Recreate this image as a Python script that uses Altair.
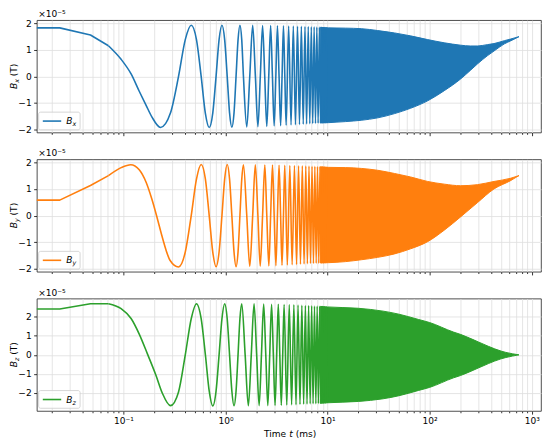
import altair as alt
import pandas as pd

# ---------------- data ----------------
# first samples of each trace, drawn point to point: (time in ms, field in 1e-5 T)
bx_start = [(0.01, 1.82), (0.0238, 1.82), (0.0476, 1.55), (0.0714, 1.15)]
by_start = [(0.01, 0.58), (0.0238, 0.58), (0.0476, 1.13), (0.0714, 1.50)]
bz_start = [(0.01, 2.41), (0.0238, 2.41), (0.0476, 2.69), (0.0714, 2.69)]

# smooth part with resolved oscillations (time in ms, field in 1e-5 T)
bx_osc = [
    (0.0714, 1.15), (0.095, 0.64), (0.119, 0.09), (0.143, -0.56), (0.167, -1.09),
    (0.190, -1.52), (0.231, -1.92), (0.289, -1.38), (0.347, 0.0), (0.404, 1.38),
    (0.462, 1.92), (0.520, 1.38), (0.578, 0.0), (0.635, -1.38), (0.693, -1.92),
    (0.751, -1.38), (0.809, 0.0), (0.866, 1.38), (0.924, 1.92), (0.982, 1.38),
    (1.04, 0.0), (1.097, -1.37), (1.155, -1.91), (1.213, -1.37), (1.27, 0.0),
    (1.328, 1.37), (1.386, 1.92), (1.444, 1.37), (1.50, 0.0), (1.617, -1.90),
    (1.73, 0.0), (1.848, 1.92), (1.964, 0.0), (2.079, -1.89), (2.195, 0.0),
    (2.31, 1.91), (2.425, 0.0), (2.54, -1.88), (2.655, 0.0), (2.77, 1.91),
    (2.885, 0.0), (3.00, -1.86), (3.115, 0.0), (3.23, 1.90), (3.35, 0.0),
    (3.47, -1.85), (3.585, 0.0), (3.70, 1.90), (3.815, 0.0), (3.93, -1.84),
    (4.16, 1.89), (4.39, -1.83), (4.62, 1.89), (4.85, -1.82), (5.08, 1.88),
    (5.31, -1.81), (5.54, 1.88), (5.78, -1.80), (6.01, 1.87), (6.24, -1.79),
    (6.47, 1.87), (6.70, -1.78), (6.93, 1.86), (7.16, -1.77), (7.39, 1.86),
    (7.62, -1.77), (7.85, 1.85), (8.09, -1.76), (8.32, 1.85), (8.55, -1.75),
    (8.78, 1.84), (9.01, -1.75), (9.24, 1.84), (9.47, -1.74), (9.70, 1.83),
    (9.93, -1.74),
]
by_osc = [
    (0.0714, 1.50), (0.095, 1.80), (0.118, 1.91), (0.143, 1.72), (0.167, 1.25),
    (0.190, 0.62), (0.214, -0.08), (0.238, -0.75), (0.262, -1.30), (0.286, -1.68),
    (0.347, -1.93), (0.404, -1.37), (0.462, 0.0), (0.520, 1.37), (0.578, 1.92),
    (0.636, 1.37), (0.693, 0.0), (0.751, -1.37), (0.809, -1.92), (0.866, -1.37),
    (0.924, 0.0), (0.982, 1.37), (1.04, 1.92), (1.097, 1.37), (1.155, 0.0),
    (1.213, -1.37), (1.27, -1.92), (1.328, -1.37), (1.386, 0.0), (1.444, 1.36),
    (1.50, 1.91), (1.617, 0.0), (1.73, -1.91), (1.848, 0.0), (1.96, 1.91),
    (2.079, 0.0), (2.19, -1.90), (2.31, 0.0), (2.43, 1.90), (2.54, 0.0),
    (2.66, -1.89), (2.77, 0.0), (2.89, 1.90), (3.00, 0.0), (3.12, -1.88),
    (3.23, 0.0), (3.35, 1.89), (3.47, 0.0), (3.58, -1.87), (3.70, 0.0),
    (3.81, 1.89), (4.04, -1.86), (4.27, 1.88), (4.50, -1.85), (4.74, 1.88),
    (4.97, -1.84), (5.20, 1.87), (5.43, -1.83), (5.66, 1.87), (5.89, -1.82),
    (6.12, 1.86), (6.35, -1.81), (6.58, 1.86), (6.81, -1.80), (7.05, 1.85),
    (7.28, -1.80), (7.51, 1.85), (7.74, -1.79), (7.97, 1.84), (8.20, -1.79),
    (8.43, 1.84), (8.66, -1.78), (8.89, 1.83), (9.12, -1.78), (9.36, 1.82),
    (9.59, -1.77), (9.82, 1.82),
]
bz_osc = [
    (0.0714, 2.69), (0.095, 2.43), (0.119, 1.91), (0.143, 1.09), (0.172, 0.05),
    (0.208, -1.06), (0.241, -2.02), (0.289, -2.67), (0.347, -1.95), (0.404, 0.0),
    (0.462, 1.90), (0.52, 2.69), (0.578, 1.90), (0.636, 0.0), (0.693, -1.90),
    (0.751, -2.69), (0.809, -1.90), (0.866, 0.0), (0.924, 1.90), (0.982, 2.69),
    (1.04, 1.90), (1.097, 0.0), (1.155, -1.90), (1.213, -2.68), (1.27, -1.90),
    (1.328, 0.0), (1.386, 1.90), (1.444, 2.68), (1.559, 0.0), (1.675, -2.68),
    (1.79, 0.0), (1.906, 2.68), (2.021, 0.0), (2.137, -2.67), (2.252, 0.0),
    (2.368, 2.67), (2.483, 0.0), (2.599, -2.67), (2.714, 0.0), (2.83, 2.66),
    (2.945, 0.0), (3.061, -2.66), (3.176, 0.0), (3.292, 2.66), (3.407, 0.0),
    (3.523, -2.65), (3.638, 0.0), (3.754, 2.65), (3.985, -2.64), (4.216, 2.64),
    (4.447, -2.63), (4.678, 2.63), (4.909, -2.62), (5.14, 2.62), (5.371, -2.61),
    (5.602, 2.61), (5.833, -2.60), (6.064, 2.60), (6.295, -2.59), (6.526, 2.59),
    (6.757, -2.58), (6.988, 2.58), (7.219, -2.57), (7.45, 2.57), (7.681, -2.57),
    (7.912, 2.57), (8.143, -2.56), (8.374, 2.56), (8.605, -2.55), (8.836, 2.55),
    (9.067, -2.54), (9.298, 2.54), (9.529, -2.54), (9.76, 2.53), (9.991, -2.53),
]
# densely oscillating part: (time in ms, upper envelope, lower envelope)
bx_envelope = [
    (8.5, 1.84, -1.75), (10.2, 1.82, -1.74), (15, 1.81, -1.70), (21.4, 1.79, -1.65),
    (31, 1.72, -1.56), (45.3, 1.63, -1.40), (65, 1.52, -1.20), (95.6, 1.38, -0.92),
    (139, 1.26, -0.54), (201, 1.17, -0.10), (250, 1.14, 0.22), (293, 1.14, 0.46),
    (367, 1.19, 0.77), (427, 1.23, 0.95), (540, 1.34, 1.22), (620, 1.40, 1.33),
    (750, 1.49, 1.49),
]
by_envelope = [
    (8.5, 1.83, -1.78), (10.2, 1.81, -1.77), (15, 1.80, -1.73), (21.4, 1.77, -1.66),
    (31, 1.70, -1.57), (45.3, 1.58, -1.44), (65, 1.45, -1.25), (95.6, 1.28, -0.98),
    (139, 1.18, -0.55), (201, 1.12, -0.05), (293, 1.16, 0.48), (427, 1.28, 1.00),
    (620, 1.40, 1.31), (750, 1.50, 1.50),
]
bz_envelope = [
    (8.5, 2.55, -2.55), (10, 2.52, -2.52), (20, 2.45, -2.45), (35, 2.30, -2.31),
    (50, 2.14, -2.15), (78, 1.86, -1.87), (100, 1.70, -1.71), (171, 1.20, -1.21),
    (200, 1.08, -1.09), (300, 0.68, -0.69), (376, 0.45, -0.46), (500, 0.20, -0.21),
    (558, 0.13, -0.14), (750, 0.0, 0.0),
]
series_labels = ["x", "y", "z"]
series_colors = ["#1f77b4", "#ff7f0e", "#2ca02c"]
y_domains = [[-2.11, 2.11], [-2.11, 2.11], [-2.95, 2.96]]
y_ticks = [-2, -1, 0, 1, 2]
x_domain = [0.0142, 1233]
x_major = [0.1, 1, 10, 100, 1000]
x_major_labels = ["10⁻¹", "10⁰", "10¹", "10²", "10³"]
x_minor = [m * 10.0 ** e for e in range(-2, 3) for m in range(2, 10)]
offset_text = "×10⁻⁵"

# ---------------- layout ----------------
FONT = "DejaVu Sans"
FS = 9.1
SUB = 6.4
LW = 1.6
W, H = 507, 113
one = pd.DataFrame({"k": [0]})

label_expr = " : ".join(
    f"datum.value == {v} ? '{s}'" for v, s in zip(x_major, x_major_labels)
) + " : ''"
MAJOR_TEST = "abs(log(datum.value)/LN10 - round(log(datum.value)/LN10)) < 0.000001"


def txt(text, x, y, size=FS, style="normal", angle=0, align="left"):
    return alt.Chart(one).mark_text(
        font=FONT, fontSize=size, fontStyle=style, angle=angle, align=align,
        baseline="alphabetic", color="black",
    ).encode(x=alt.value(x), y=alt.value(y), text=alt.value(text))


def panel(start, osc, env, color, sub, ydom, bottom):
    sdf = pd.DataFrame(start, columns=["t", "b"])
    odf = pd.DataFrame(osc, columns=["t", "b"])
    edf = pd.DataFrame(env, columns=["t", "hi", "lo"])
    xax = alt.Axis(
        values=x_major + x_minor, labels=bottom, labelExpr=label_expr,
        tickSize={"condition": {"test": MAJOR_TEST, "value": 3.2}, "value": 1.8},
        grid=True, title=None, labelOverlap=False, labelBaseline="alphabetic",
        labelPadding=9.8, labelFlush=False,
    )
    yax = alt.Axis(values=y_ticks, title=None, tickSize=3.2, labelPadding=2.5,
                   grid=True, format="d")
    xs = alt.Scale(type="log", domain=x_domain, nice=False)
    ys = alt.Scale(domain=ydom, nice=False, zero=False)
    X = alt.X("t:Q", scale=xs, axis=xax)

    band = alt.Chart(edf).mark_area(
        color=color, interpolate="monotone", stroke=color, strokeWidth=1.0, opacity=1
    ).encode(x=X, y=alt.Y("hi:Q", scale=ys, axis=yax), y2="lo:Q")
    line0 = alt.Chart(sdf).mark_line(
        color=color, strokeWidth=LW, clip=True, strokeJoin="round"
    ).encode(x=X, y=alt.Y("b:Q", scale=ys, axis=yax))
    line1 = alt.Chart(odf).mark_line(
        color=color, strokeWidth=LW, interpolate="monotone", clip=True
    ).encode(x=X, y=alt.Y("b:Q", scale=ys, axis=yax))

    sub_w = 3.8 if sub in ("x", "y") else 3.4
    c = H / 2
    top = c + (6.25 + sub_w + 15.55) / 2
    layers = [
        band, line0, line1,
        # y-axis title  B_sub (T)
        txt("B", -20, top, style="italic", angle=270),
        txt(sub, -18, top - 6.25, size=SUB, style="italic", angle=270),
        txt("(T)", -20, top - 6.25 - sub_w - 2.9, angle=270),
        # offset text
        txt(offset_text, 1.3, -3),
        # legend
        alt.Chart(one).mark_rect(
            fill="white", fillOpacity=0.8, stroke="#cccccc", strokeWidth=0.8, cornerRadius=2
        ).encode(x=alt.value(1.8), x2=alt.value(43.5), y=alt.value(92.5), y2=alt.value(110.3)),
        alt.Chart(one).mark_rule(color=color, strokeWidth=LW).encode(
            x=alt.value(6), x2=alt.value(24.5), y=alt.value(101.5)),
        txt("B", 29.5, 104.6, style="italic"),
        txt(sub, 35.8, 106.6, size=SUB, style="italic"),
    ]
    if bottom:
        layers += [
            txt("Time", 228.5, 139),
            txt("t", 253.95, 139, style="italic"),
            txt("(ms)", 260.4, 139),
        ]
    return alt.layer(*layers).properties(width=W, height=H)


starts = [bx_start, by_start, bz_start]
oscs = [bx_osc, by_osc, bz_osc]
envs = [bx_envelope, by_envelope, bz_envelope]
panels = [
    panel(starts[i], oscs[i], envs[i], series_colors[i], series_labels[i], y_domains[i], i == 2)
    for i in range(3)
]

chart = alt.vconcat(*panels, spacing=27, bounds="flush").properties(
    padding={"left": 1, "top": 0, "right": 0, "bottom": 0}
).configure_view(
    stroke="#222222", strokeWidth=0.8
).configure_axis(
    labelFont=FONT, labelFontSize=FS, labelColor="black",
    tickColor="black", tickWidth=0.8, domain=False,
    gridColor="#dedede", gridWidth=0.8,
)

chart.save("out.html", embed_options={"renderer": "svg", "actions": False})
